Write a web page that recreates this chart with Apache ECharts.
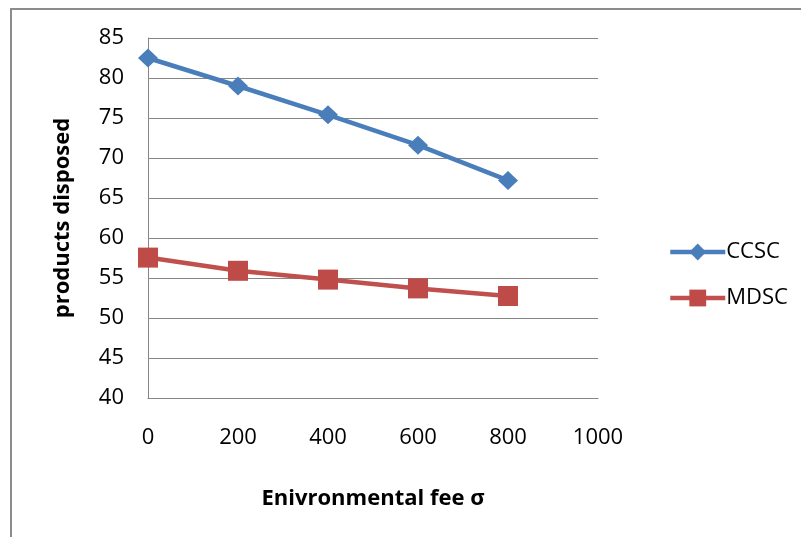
<!DOCTYPE html>
<html>
<head>
<meta charset="utf-8">
<script src="https://cdn.jsdelivr.net/npm/echarts@6/dist/echarts.min.js"></script>
<style>
html,body{margin:0;padding:0;background:#fff;}
#chart{width:801px;height:537px;}
</style>
</head>
<body>
<div id="chart"></div>
<script>
const fees = [0, 200, 400, 600, 800];
const ccsc = [82.5, 79.0, 75.4, 71.6, 67.2];
const mdsc = [57.55, 55.9, 54.8, 53.7, 52.75];
const seriesNames = ['CCSC', 'MDSC'];
const xTitle = 'Enivronmental fee σ';
const yTitle = 'products disposed';

const font = '"Open Sans", "Noto Sans", sans-serif';
const chart = echarts.init(document.getElementById('chart'), null, {renderer: 'canvas'});
chart.setOption({
  animation: false,
  backgroundColor: '#fff',
  graphic: [{
    type: 'rect',
    shape: {x: 11, y: 9, width: 800, height: 540},
    style: {fill: 'none', stroke: '#8c8c8c', lineWidth: 2},
    silent: true
  }],
  grid: {left: 148, right: 203, top: 38, bottom: 139},
  legend: {
    orient: 'vertical',
    left: 663,
    top: 236,
    itemWidth: 55,
    itemHeight: 21,
    itemGap: 24,
    lineStyle: {width: 4.5},
    textStyle: {fontFamily: font, fontSize: 22, color: '#000', padding: [0, 0, 0, -4]},
    data: seriesNames
  },
  xAxis: {
    type: 'value',
    min: 0, max: 1000, interval: 200,
    name: xTitle,
    nameLocation: 'middle',
    nameGap: 90,
    nameTextStyle: {fontFamily: font, fontSize: 22, fontWeight: 'bold', color: '#000'},
    axisLine: {show: true, lineStyle: {color: '#868686', width: 1}},
    axisTick: {show: false},
    axisLabel: {fontFamily: font, fontSize: 22, color: '#000', margin: 29, formatter: v => String(v)},
    splitLine: {show: false}
  },
  yAxis: {
    type: 'value',
    min: 40, max: 85, interval: 5,
    name: yTitle,
    nameLocation: 'middle',
    nameGap: 74,
    nameTextStyle: {fontFamily: font, fontSize: 22, fontWeight: 'bold', color: '#000'},
    axisLine: {show: true, lineStyle: {color: '#868686', width: 1}},
    axisTick: {show: false},
    axisLabel: {fontFamily: font, fontSize: 22, color: '#000', margin: 24},
    splitLine: {show: true, lineStyle: {color: '#868686', width: 1}}
  },
  series: [
    {
      name: seriesNames[0],
      type: 'line',
      data: fees.map((f, i) => [f, ccsc[i]]),
      symbol: 'diamond',
      symbolSize: [20, 19],
      lineStyle: {color: '#4a7ebb', width: 4.5},
      itemStyle: {color: '#4a7ebb'}
    },
    {
      name: seriesNames[1],
      type: 'line',
      data: fees.map((f, i) => [f, mdsc[i]]),
      symbol: 'rect',
      symbolSize: 20,
      lineStyle: {color: '#c0504d', width: 4.5},
      itemStyle: {color: '#be4b48'}
    }
  ]
});
</script>
</body>
</html>
